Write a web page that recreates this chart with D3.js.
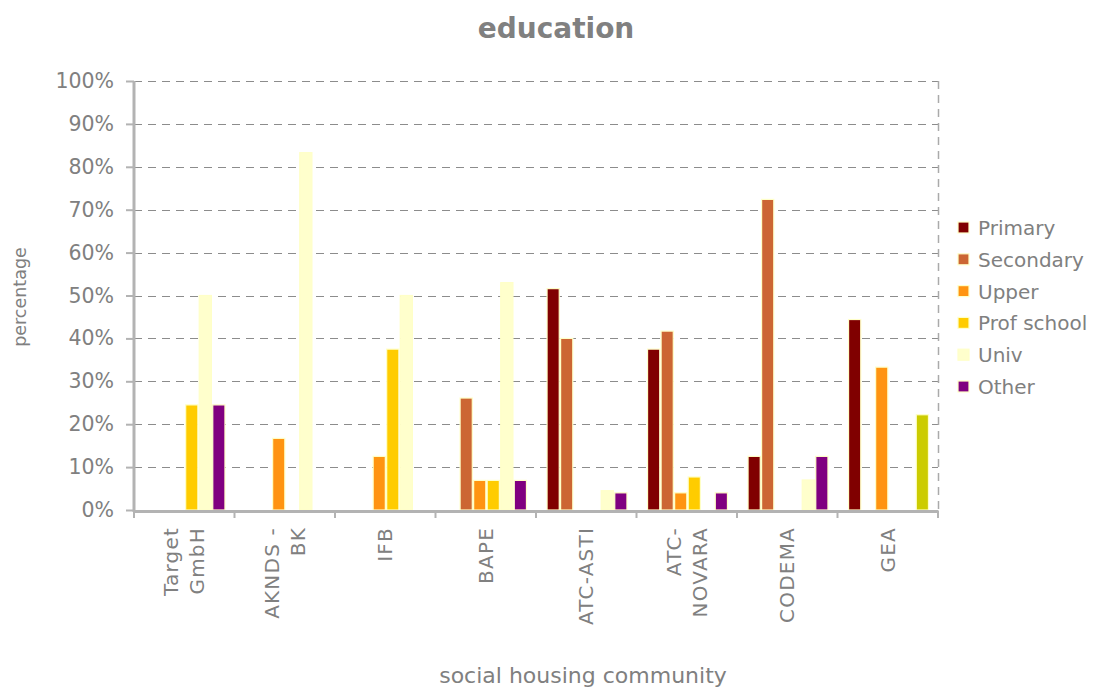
<!DOCTYPE html>
<html>
<head>
<meta charset="utf-8">
<script src="https://cdn.jsdelivr.net/npm/d3@7"></script>
<style>
  html, body { margin: 0; padding: 0; background: #fff; }
  svg { display: block; }
  text { font-family: "DejaVu Sans", Verdana, sans-serif; fill: #808080; }
</style>
</head>
<body>
<svg id="chart" width="1108" height="689"></svg>
<script>
// ---- data ----
const categories = ["Target GmbH", "AKNDS - BK", "IFB", "BAPE", "ATC-ASTI", "ATC-NOVARA", "CODEMA", "GEA"];
const categoryLines = [["Target", "GmbH"], ["AKNDS -", "BK"], ["IFB"], ["BAPE"], ["ATC-ASTI"], ["ATC-", "NOVARA"], ["CODEMA"], ["GEA"]];
const seriesNames = ["Primary", "Secondary", "Upper", "Prof school", "Univ", "Other"];
const primary    = [0,    0,    0,    0,    51.6, 37.5, 12.5, 44.4];
const secondary  = [0,    0,    0,    26.1, 40.0, 41.7, 72.4, 0];
const upper      = [0,    16.7, 12.5, 6.9,  0,    4.0,  0,    33.3];
const profSchool = [24.5, 0,    37.5, 6.9,  0,    7.7,  0,    0];
const univ       = [50.0, 83.3, 50.0, 53.0, 4.5,  0,    7.0,  0];
const other      = [24.5, 0,    0,    6.9,  4.0,  4.0,  12.5, 22.2];
const yTicks = [0, 10, 20, 30, 40, 50, 60, 70, 80, 90, 100];

// ---- styles ----
const seriesColors = ["#800000", "#CC6633", "#FF9411", "#FFCC00", "#FFFFCC", "#800080"];
const pointColorOverride = { "GEA|Other": "#CCCC00" };

const seriesValues = [primary, secondary, upper, profSchool, univ, other];
const rows = [];
categories.forEach((c, i) => {
  seriesNames.forEach((s, j) => rows.push({ cat: c, series: s, value: seriesValues[j][i], j }));
});

const svg = d3.select("#chart");
const pLeft = 134, pRight = 938, pTop = 81, pBottom = 510;

const x0 = d3.scaleBand().domain(categories).range([pLeft, pRight]).padding(0);
const bw = x0.bandwidth();
const x1 = d3.scaleBand().domain(seriesNames).range([bw * 0.11, bw * 0.905]).paddingInner(0.1).paddingOuter(0);
const y = d3.scaleLinear().domain([0, 100]).range([pBottom, pTop]);

// gridlines
svg.append("g").selectAll("line").data(yTicks.filter(d => d > 0)).join("line")
  .attr("x1", pLeft).attr("x2", pRight)
  .attr("y1", d => Math.round(y(d)) + 0.5).attr("y2", d => Math.round(y(d)) + 0.5)
  .attr("stroke", "#8c8c8c").attr("stroke-width", 1).attr("stroke-dasharray", "8,6");

// right border dashed
svg.append("line")
  .attr("x1", pRight + 0.5).attr("x2", pRight + 0.5).attr("y1", pTop).attr("y2", pBottom)
  .attr("stroke", "#aaaaaa").attr("stroke-width", 1.5).attr("stroke-dasharray", "8,6");

// bars
svg.append("g").selectAll("rect").data(rows.filter(d => d.value > 0)).join("rect")
  .attr("x", d => x0(d.cat) + x1(d.series))
  .attr("width", x1.bandwidth())
  .attr("y", d => y(d.value))
  .attr("height", d => y(0) - y(d.value))
  .attr("fill", d => pointColorOverride[d.cat + "|" + d.series] || seriesColors[d.j])
  .attr("stroke", "#FFFFC8").attr("stroke-width", 1.2);

// y axis
const yAxis = d3.axisLeft(y).tickValues(yTicks).tickFormat(d => d + "%").tickSize(8).tickPadding(12);
const gy = svg.append("g").attr("transform", `translate(${pLeft},0)`).call(yAxis);
gy.select(".domain").attr("stroke", "#b3b3b3").attr("stroke-width", 3).attr("d", `M0,${pTop}V${pBottom + 2}`);
gy.selectAll(".tick line").attr("stroke", "#b3b3b3").attr("stroke-width", 2);
gy.selectAll(".tick text").attr("font-size", 20.5).attr("fill", "#808080")
  .style("font-family", '"DejaVu Sans", Verdana, sans-serif');

// x axis
const xAxis = d3.axisBottom(x0).tickSize(0).tickFormat("");
const gx = svg.append("g").attr("transform", `translate(0,${pBottom + 1})`).call(xAxis);
gx.select(".domain").attr("stroke", "#b3b3b3").attr("stroke-width", 3);
gx.selectAll(".bnd").data(d3.range(categories.length + 1)).join("line")
  .attr("x1", i => pLeft + i * bw).attr("x2", i => pLeft + i * bw)
  .attr("y1", 0).attr("y2", 7).attr("stroke", "#b3b3b3").attr("stroke-width", 2);

// x labels (rotated)
const lineH = 26;
categories.forEach((c, i) => {
  const lines = categoryLines[i];
  const cx = x0(c) + bw / 2;
  lines.forEach((ln, k) => {
    const off = (k - (lines.length - 1) / 2) * lineH;
    svg.append("text")
      .attr("transform", `translate(${cx + off + 7},${527}) rotate(-90)`)
      .attr("text-anchor", "end")
      .attr("font-size", 20)
      .attr("letter-spacing", 1.2)
      .text(ln);
  });
});

// titles
svg.append("text").attr("x", 556).attr("y", 38).attr("text-anchor", "middle")
  .attr("font-size", 28).attr("font-weight", "bold").text("education");
svg.append("text").attr("transform", "translate(26,297) rotate(-90)").attr("text-anchor", "middle")
  .attr("font-size", 17.5).text("percentage");
svg.append("text").attr("x", 583).attr("y", 683).attr("text-anchor", "middle")
  .attr("font-size", 22).text("social housing community");

// legend
const lg = svg.append("g").attr("transform", "translate(958,228)");
seriesNames.forEach((s, i) => {
  const g = lg.append("g").attr("transform", `translate(0,${i * 31.8})`);
  g.append("rect").attr("x", 0).attr("y", -6).attr("width", 11).attr("height", 11)
    .attr("fill", seriesColors[i]).attr("stroke", "#FFFFC8").attr("stroke-width", 1.2);
  g.append("text").attr("x", 20).attr("y", 0).attr("dy", "0.35em").attr("font-size", 20).text(s);
});
</script>
</body>
</html>
